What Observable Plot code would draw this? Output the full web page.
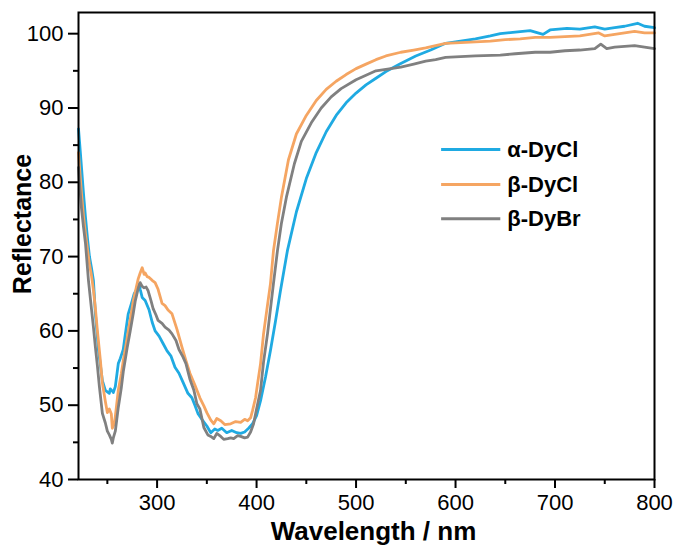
<!DOCTYPE html>
<html>
<head>
<meta charset="utf-8">
<script src="https://cdn.jsdelivr.net/npm/d3@7"></script>
<script src="https://cdn.jsdelivr.net/npm/@observablehq/plot@0.6"></script>
<style>
  html, body { margin: 0; padding: 0; background: #fff; }
  #chart { width: 678px; height: 545px; overflow: hidden; }
</style>
</head>
<body>
<div id="chart"></div>
<script>
// ---- data ----
const seriesNames = ["α-DyCl", "β-DyCl", "β-DyBr"];
const seriesColors = ["#1FAAE2", "#F5A562", "#808080"];

const alphaDyClX = [221, 222, 224, 226, 228, 230, 232, 234, 236, 238, 241, 245, 248, 250, 252, 253, 255, 256, 258, 261, 263, 266, 268, 271, 274, 277, 280, 282, 283, 285, 288, 292, 295, 298, 302, 306, 310, 314, 318, 322, 326, 331, 335, 338, 341, 345, 350, 354, 358, 361, 365, 370, 375, 380, 384, 388, 392, 396, 400, 404, 409, 414, 419, 424, 431, 440, 450, 460, 470, 480, 490, 500, 510, 520, 530, 545, 560, 575, 590, 605, 620, 635, 645, 660, 675, 688, 695, 712, 725, 740, 750, 760, 770, 783, 790, 800];
const alphaDyClY = [87.2, 85.5, 82.0, 78.5, 75.3, 72.5, 70.0, 68.5, 66.8, 62.3, 57.5, 53.3, 52.0, 51.8, 51.6, 52.2, 51.9, 51.7, 52.5, 55.6, 56.3, 57.5, 59.5, 62.3, 63.6, 65.0, 65.7, 66.3, 65.6, 64.5, 64.1, 62.8, 61.2, 60.0, 59.3, 58.3, 57.3, 56.6, 55.1, 54.3, 53.1, 51.6, 51.0, 50.0, 48.9, 48.1, 47.2, 46.3, 46.8, 46.6, 46.9, 46.3, 46.6, 46.3, 46.2, 46.4, 46.9, 47.5, 48.6, 50.6, 53.8, 57.4, 61.3, 65.4, 70.8, 76.0, 80.5, 84.0, 86.8, 89.0, 90.7, 92.0, 93.1, 94.0, 94.9, 96.0, 97.0, 97.8, 98.7, 99.0, 99.3, 99.7, 100.0, 100.2, 100.4, 99.9, 100.5, 100.7, 100.6, 100.9, 100.6, 100.8, 101.0, 101.4, 101.0, 100.8];

const betaDyClX = [221, 222, 224, 226, 228, 230, 232, 234, 236, 238, 240, 243, 245, 248, 250, 252, 254, 255, 257, 258, 261, 264, 266, 269, 271, 274, 276, 279, 281, 283, 285, 287, 288, 290, 292, 295, 298, 301, 305, 308, 311, 315, 320, 325, 329, 333, 338, 343, 347, 350, 354, 357, 360, 364, 368, 374, 379, 384, 388, 391, 394, 396, 399, 401, 404, 407, 411, 414, 417, 421, 425, 432, 440, 450, 460, 470, 480, 490, 500, 510, 520, 530, 545, 558, 570, 580, 590, 605, 620, 635, 650, 665, 680, 695, 710, 725, 744, 750, 760, 770, 780, 790, 800];
const betaDyClY = [84.0, 82.0, 78.5, 75.5, 73.1, 71.0, 69.0, 67.5, 65.5, 63.0, 60.0, 56.0, 53.0, 50.5, 49.0, 49.5, 48.8, 46.9, 47.5, 48.5, 52.0, 54.2, 56.0, 58.3, 60.0, 62.3, 64.0, 65.8, 67.0, 67.8, 68.5, 67.6, 67.8, 67.3, 67.2, 66.8, 66.5, 65.6, 63.7, 63.4, 62.8, 62.3, 60.2, 57.8, 56.0, 54.3, 52.7, 51.0, 49.9, 49.0, 48.0, 47.5, 48.2, 47.9, 47.4, 47.5, 47.8, 47.7, 48.1, 47.9, 48.3, 49.3, 51.0, 52.9, 55.6, 59.6, 63.5, 66.4, 70.8, 74.5, 78.0, 83.0, 86.5, 89.0, 91.0, 92.5, 93.6, 94.5, 95.3, 95.9, 96.5, 97.0, 97.5, 97.8, 98.1, 98.4, 98.7, 98.8, 98.9, 99.0, 99.2, 99.3, 99.5, 99.5, 99.6, 99.7, 100.1, 99.7, 99.9, 100.1, 100.3, 100.1, 100.1];

const betaDyBrX = [221, 222, 224, 226, 228, 231, 234, 236, 238, 240, 242, 245, 248, 250, 252, 254, 255, 256, 258, 261, 264, 266, 270, 273, 276, 278, 281, 283, 285, 287, 289, 291, 294, 296, 299, 301, 305, 308, 312, 315, 319, 322, 326, 329, 333, 337, 340, 343, 347, 351, 354, 357, 360, 364, 367, 371, 374, 377, 381, 384, 388, 391, 394, 397, 400, 404, 407, 411, 414, 417, 421, 425, 430, 438, 445, 455, 465, 475, 485, 500, 510, 520, 530, 545, 558, 570, 580, 590, 605, 620, 645, 660, 680, 695, 710, 725, 740, 746, 752, 760, 770, 780, 790, 800];
const betaDyBrY = [82.0, 80.0, 76.5, 74.0, 71.8, 66.8, 63.0, 60.5, 57.8, 55.3, 52.5, 48.9, 47.6, 46.5, 46.0, 45.4, 44.9, 45.6, 46.5, 49.7, 52.3, 54.5, 57.8, 60.0, 62.3, 64.0, 65.7, 66.5, 66.0, 65.8, 65.9, 65.4, 64.0, 63.0, 62.1, 61.4, 61.0, 60.5, 60.1, 59.6, 58.7, 57.5, 56.5, 55.6, 53.5, 52.0, 50.2, 49.5, 47.0, 46.0, 45.8, 45.5, 46.2, 45.8, 45.4, 45.5, 45.6, 45.5, 45.9, 45.8, 45.6, 45.7, 46.4, 47.5, 49.5, 52.0, 55.8, 59.6, 63.0, 66.4, 70.8, 74.5, 78.0, 82.5, 85.5, 88.0, 90.0, 91.5, 92.6, 93.8, 94.4, 95.0, 95.2, 95.5, 95.9, 96.3, 96.5, 96.8, 96.9, 97.0, 97.1, 97.3, 97.5, 97.5, 97.7, 97.8, 98.0, 98.6, 98.0, 98.2, 98.3, 98.4, 98.2, 98.0];

// ---- build table ----
const xs = [alphaDyClX, betaDyClX, betaDyBrX];
const ys = [alphaDyClY, betaDyClY, betaDyBrY];
const rows = [];
seriesNames.forEach((name, i) => {
  xs[i].forEach((w, j) => rows.push({series: name, wavelength: w, reflectance: ys[i][j]}));
});

const xMajor = [300, 400, 500, 600, 700, 800];
const xMinor = [250, 350, 450, 550, 650, 750];
const yMajor = [40, 50, 60, 70, 80, 90, 100];
const yMinor = [45, 55, 65, 75, 85, 95];

// legend entries (placed in data coordinates of the upper-right empty area)
const legendRows = seriesNames.map((name, i) => ({name, color: seriesColors[i], y: [84.4, 79.7, 75.1][i]}));

const font = "'Liberation Sans', Arial, sans-serif";

const chart = Plot.plot({
  width: 678,
  height: 545,
  marginLeft: 78,
  marginRight: 24,
  marginTop: 12,
  marginBottom: 66,
  style: {fontFamily: font, background: "#fff", color: "#000"},
  x: {domain: [221, 800]},
  y: {domain: [40, 102.85]},
  marks: [
    Plot.axisX({ticks: xMinor, tickSize: 5, strokeWidth: 2, text: null, label: null}),
    Plot.axisX({ticks: xMajor, tickSize: 9, tickPadding: 6, strokeWidth: 2, fontSize: 22, label: null, tickFormat: d => String(d)}),
    Plot.axisY({ticks: yMinor, tickSize: 5, strokeWidth: 2, text: null, label: null}),
    Plot.axisY({ticks: yMajor, tickSize: 10, tickPadding: 5, strokeWidth: 2, fontSize: 22, label: null, tickFormat: d => String(d)}),
    Plot.line(rows.filter(d => d.series === seriesNames[0]), {x: "wavelength", y: "reflectance", stroke: seriesColors[0], strokeWidth: 2.8}),
    Plot.line(rows.filter(d => d.series === seriesNames[1]), {x: "wavelength", y: "reflectance", stroke: seriesColors[1], strokeWidth: 2.8}),
    Plot.line(rows.filter(d => d.series === seriesNames[2]), {x: "wavelength", y: "reflectance", stroke: seriesColors[2], strokeWidth: 2.8}),
    Plot.frame({stroke: "#000", strokeWidth: 2}),
    // legend
    Plot.link(legendRows, {x1: 585.5, x2: 645, y1: "y", y2: "y", stroke: "color", strokeWidth: 3}),
    Plot.text(legendRows, {x: 652, y: "y", text: "name", textAnchor: "start", fontSize: 22, fontWeight: "bold", fill: "#000"}),
    // axis titles
    Plot.text(["Wavelength / nm"], {frameAnchor: "bottom", textAnchor: "middle", dx: 7, dy: 60, fontSize: 26, fontWeight: "bold", fill: "#000"}),
    Plot.text(["Reflectance"], {frameAnchor: "left", textAnchor: "middle", rotate: -90, dx: -56, dy: -22, fontSize: 25, fontWeight: "bold", fill: "#000"})
  ]
});
document.getElementById("chart").appendChild(chart);
</script>
</body>
</html>
